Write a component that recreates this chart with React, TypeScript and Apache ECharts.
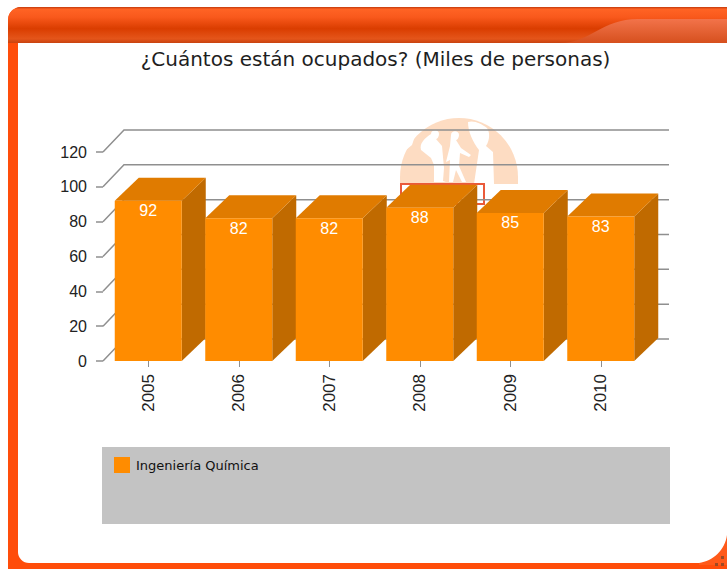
import React, { useEffect, useRef } from "react";
import * as echarts from "echarts";

const titleText = "¿Cuántos están ocupados? (Miles de personas)";
const seriesName = "Ingeniería Química";
const years = ["2005", "2006", "2007", "2008", "2009", "2010"];
const employed = [92, 82, 82, 88, 85, 83];
const valueTicks = [0, 20, 40, 60, 80, 100, 120];

const COLORS = { front: "#ff8c00", top: "#e07b00", side: "#c06a00", grid: "#8f8f8f" };
const barDepth = [24, 23];
const wallDepth = [21, 22];
const wallRight = 669;
const barRatio = 67 / 90.5;

const reg = (n: string, d: string) => echarts.graphic.registerShape(n, (echarts.graphic as any).extendPath(d, {}));
reg("frameTab", "M 0 43 C 30 43 42 19 78 19 L 170 19 L 170 43 Z");
reg("frameCorner", "M 0 28 C 14 26 26 15 28 0 L 28 30 L 0 30 Z");
reg("wmPersonA", "M 431 134 C 431 129 439 129 439 134 C 439 137 437 139 436 139 L 442 146 L 444 168 L 443 181 L 446 182 L 434 182 L 434 165 L 431 158 L 421 150 C 419 143 425 138 431 134 Z");
reg("wmPersonB", "M 451 135 C 451 130 459 130 459 135 C 459 138 457 140 456 140 L 461 148 L 471 155 L 469 157 L 460 153 L 459 166 L 466 182 L 462 182 L 456 170 L 453 182 L 449 182 L 450 160 L 446 162 L 450 146 Z");
reg("wmGap", "M 468 122 C 474 120 482 124 487 128 C 490 132 490 140 486 146 L 493 152 L 494 184 L 474 184 L 479 150 C 473 142 468 132 468 122 Z");
reg("wmNotch", "M 400 155 L 412 145 L 414 139 L 420 128 L 402 138 Z");

const lineSty = { stroke: COLORS.grid, lineWidth: 1.5, fill: "none" };

const frame: any[] = [
  { type: "rect", shape: { x: 8, y: 7, width: 760, height: 600, r: 13 }, style: { fill: "#ff4d0a" } },
  {
    type: "rect", shape: { x: 8, y: 7, width: 760, height: 36, r: [13, 0, 0, 0] },
    style: {
      fill: new echarts.graphic.LinearGradient(0, 0, 0, 1, [
        { offset: 0, color: "#c23a0c" }, { offset: 0.06, color: "#ff6324" },
        { offset: 0.28, color: "#f9591c" }, { offset: 0.6, color: "#da3d00" },
        { offset: 0.88, color: "#e4551a" }, { offset: 1, color: "#c8420f" },
      ]),
    },
  },
  {
    type: "frameTab", x: 560, y: 0,
    style: {
      fill: new echarts.graphic.LinearGradient(0, 0, 0, 1, [
        { offset: 0, color: "#f2734a" }, { offset: 1, color: "#d6501e" },
      ]),
    },
  },
  { type: "rect", shape: { x: 18, y: 43, width: 720, height: 520, r: [0, 0, 0, 11] }, style: { fill: "#ffffff" } },
  { type: "frameCorner", x: 699, y: 535, style: { fill: "#ff5a1a" } },
  { type: "rect", shape: { x: 721, y: 556, width: 3, height: 3 }, style: { fill: "#9c4a24" } },
  { type: "rect", shape: { x: 721, y: 563, width: 3, height: 3 }, style: { fill: "#9c4a24" } },
  { type: "rect", shape: { x: 715, y: 563, width: 3, height: 3 }, style: { fill: "#9c4a24" } },
  { type: "sector", shape: { cx: 459, cy: 177, r: 59, r0: 0, startAngle: Math.PI, endAngle: Math.PI * 2 }, style: { fill: "#fddcc2" } },
  { type: "rect", shape: { x: 400, y: 177, width: 118, height: 7 }, style: { fill: "#fddcc2" } },
  { type: "wmGap", style: { fill: "#ffffff" } },
  { type: "wmNotch", style: { fill: "#ffffff" } },
  { type: "wmPersonA", style: { fill: "#ffffff" } },
  { type: "wmPersonB", style: { fill: "#ffffff" } },
  { type: "rect", shape: { x: 401, y: 184, width: 83, height: 20 }, style: { fill: "#fff", stroke: "#ea5a3a", lineWidth: 2 } },
  { type: "rect", shape: { x: 102, y: 447, width: 568, height: 77 }, style: { fill: "#c3c3c3" } },
];

function renderWall(params: any, api: any) {
  const cs = params.coordSys;
  const y = api.coord([0, api.value(0)])[1];
  const left = cs.x;
  return {
    type: "polyline",
    shape: { points: [[left, y], [left + wallDepth[0], y - wallDepth[1]], [wallRight, y - wallDepth[1]]] },
    style: lineSty,
    silent: true,
  };
}

function renderBar(_params: any, api: any) {
  const c = api.coord([api.value(0), 0]);
  const topPt = api.coord([api.value(0), api.value(1)]);
  const w = api.size([1, 0])[0] * barRatio;
  const x0 = c[0] - w / 2;
  const x1 = c[0] + w / 2;
  const y0 = c[1];
  const y1 = topPt[1];
  const [dx, dy] = barDepth;
  return {
    type: "group",
    children: [
      { type: "polygon", shape: { points: [[x1, y1], [x1 + dx, y1 - dy], [x1 + dx, y0 - dy], [x1, y0]] }, style: { fill: COLORS.side } },
      { type: "polygon", shape: { points: [[x0, y1], [x0 + dx, y1 - dy], [x1 + dx, y1 - dy], [x1, y1]] }, style: { fill: COLORS.top } },
      { type: "rect", shape: { x: x0, y: y1, width: w, height: y0 - y1 }, style: { fill: COLORS.front } },
      {
        type: "text", x: c[0], y: y1 + 10,
        style: { text: String(api.value(1)), fill: "#ffffff", font: "16px 'Liberation Sans'", align: "center", verticalAlign: "middle" },
      },
    ],
  };
}

export default function App() {
  const ref = useRef<HTMLDivElement>(null);
  useEffect(() => {
    document.body.style.margin = "0";
    const chart = echarts.init(ref.current!, undefined, { renderer: "svg" });
    chart.setOption({
      animation: false,
      backgroundColor: "#ffffff",
      title: {
        text: titleText, left: 370.5, top: 44, textAlign: "center",
        textStyle: { fontFamily: "DejaVu Sans", fontSize: 20, fontWeight: "normal", color: "#1e1e1e" },
      },
      legend: {
        data: [seriesName], left: 114, top: 457, padding: 0, itemWidth: 16, itemHeight: 16, itemGap: 6,
        icon: "rect", selectedMode: false,
        textStyle: { fontFamily: "DejaVu Sans", fontSize: 13, color: "#111111", padding: [0, 0, 0, 1] },
      },
      grid: { left: 103, top: 152, width: 543, height: 209 },
      xAxis: {
        type: "category", data: years,
        axisLine: { show: false },
        axisTick: { show: true, alignWithLabel: true, length: 6, lineStyle: { color: COLORS.grid, width: 1 } },
        axisLabel: { rotate: 90, margin: 13, fontFamily: "Liberation Sans", fontSize: 17, color: "#222222" },
        splitLine: { show: false },
      },
      yAxis: {
        type: "value", min: 0, max: 120, interval: 20,
        axisLine: { show: false },
        axisTick: { show: true, length: 7, lineStyle: { color: COLORS.grid, width: 1.5 } },
        axisLabel: { margin: 16, fontFamily: "Liberation Sans", fontSize: 16, color: "#222222" },
        splitLine: { show: false },
      },
      graphic: { elements: frame },
      series: [
        { type: "custom", name: "wall", silent: true, clip: false, z: 1, data: valueTicks.map((v) => [v]), encode: { y: 0 }, renderItem: renderWall },
        {
          type: "custom", name: seriesName, clip: false, z: 3,
          itemStyle: { color: COLORS.front },
          data: employed.map((v, i) => [i, v]), encode: { x: 0, y: 1 }, renderItem: renderBar,
        },
      ],
    });
    return () => chart.dispose();
  }, []);
  return <div ref={ref} style={{ position: "absolute", left: 0, top: 0, width: 727, height: 569 }} />;
}
